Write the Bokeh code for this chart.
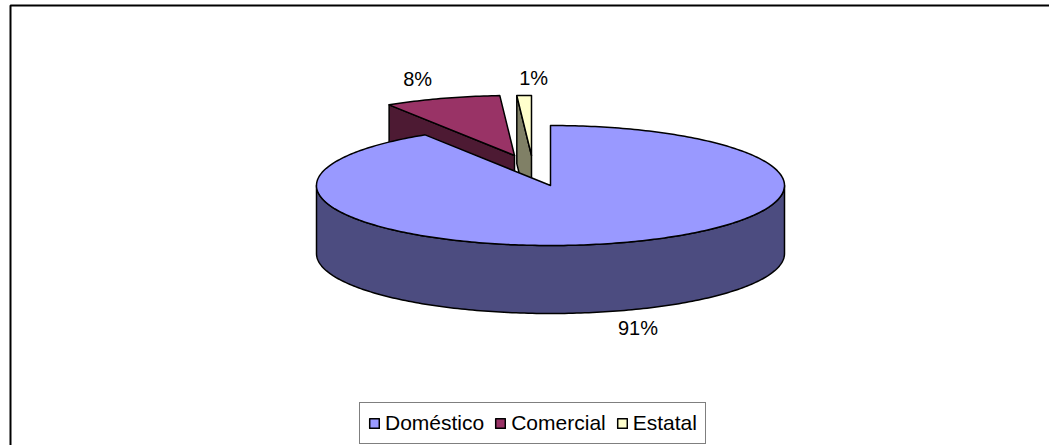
import math
from bokeh.plotting import figure
from bokeh.models import Range1d, Legend, LegendItem
from bokeh.core.properties import value
from bokeh.embed import file_html
from bokeh.resources import INLINE

# ---- data ----
categories = ["Doméstico", "Comercial", "Estatal"]
values = [91, 8, 1]

# ---- style ----
top_colors = ["#9999FF", "#993366", "#FFFFCC"]
side_colors = ["#4C4C80", "#4D1A33", "#808066"]
explode_px = [(0, 0), (-36, -30), (-19, -30)]   # offset of each exploded slice
label_nudge = [(0, 0), (0, 0), (12, 3)]         # small label adjustments (px)
CX, CY, A, B, D = 550, 185, 234, 60, 68          # pie centre, semi-axes, depth
LABEL_R = 1.34
FONT = "Liberation Sans"

W, H = 1049, 445
p = figure(width=W, height=H, x_range=Range1d(0, W), y_range=Range1d(H, 0),
           output_backend="svg", toolbar_location=None, min_border=0)
p.axis.visible = False
p.grid.visible = False
p.outline_line_color = None
p.background_fill_color = "white"
p.border_fill_color = "white"

total = float(sum(values))
angles = []
acc = 0.0
for v in values:
    s = acc / total * 2 * math.pi
    acc += v
    e = acc / total * 2 * math.pi
    angles.append((s, e))


def rim(cx, cy, th, bottom=False):
    return cx + A * math.sin(th), cy - B * math.cos(th) + (D if bottom else 0)


def arc(cx, cy, s, e, bottom=False):
    n = max(2, int(abs(e - s) / math.radians(1)) + 2)
    return [rim(cx, cy, s + (e - s) * k / (n - 1), bottom) for k in range(n)]


def poly(pts, color):
    xs = [q[0] for q in pts]
    ys = [q[1] for q in pts]
    return p.patch(xs, ys, fill_color=color, line_color="black", line_width=1.5,
                   line_join="round")


order = sorted(range(len(values)), key=lambda i: explode_px[i][1])
top_renderers = {}
labels_x, labels_y, labels_t = [], [], []
for i in order:
    s, e = angles[i]
    cx = CX + explode_px[i][0]
    cy = CY + explode_px[i][1]
    # outer rim side (front half only)
    rs, re_ = max(s, math.pi / 2), min(e, 3 * math.pi / 2)
    if re_ > rs:
        top_arc = arc(cx, cy, rs, re_)
        bot_arc = arc(cx, cy, rs, re_, bottom=True)
        poly(top_arc + bot_arc[::-1], side_colors[i])
    # radial cut faces that face the viewer
    if math.sin(s) < -1e-6:
        poly([(cx, cy), rim(cx, cy, s), rim(cx, cy, s, True), (cx, cy + D)], side_colors[i])
    if math.sin(e) > 1e-6:
        poly([(cx, cy), rim(cx, cy, e), rim(cx, cy, e, True), (cx, cy + D)], side_colors[i])
    # top face
    top_renderers[i] = poly([(cx, cy)] + arc(cx, cy, s, e), top_colors[i])
    mid = (s + e) / 2
    labels_x.append(cx + LABEL_R * A * math.sin(mid) + label_nudge[i][0])
    labels_y.append(cy - LABEL_R * B * math.cos(mid) + D * max(0.0, -math.cos(mid))
                    + label_nudge[i][1])
    labels_t.append(f"{round(values[i] / total * 100)}%")

p.text(labels_x, labels_y, text=labels_t, text_align="center", text_baseline="middle",
       text_font=value(FONT), text_font_size="20px", text_color="black")

# chart frame (top and left edges visible)
p.line([10, 10, W], [H, 5, 5], line_color="black", line_width=2)

legend = Legend(items=[LegendItem(label=categories[i], renderers=[top_renderers[i]])
                       for i in range(len(categories))],
                orientation="horizontal", location=(359, 1),
                glyph_width=12, glyph_height=12, label_standoff=5, spacing=10,
                padding=8, margin=0,
                label_text_font=FONT, label_text_font_size="21px",
                label_text_color="black",
                border_line_color="black", border_line_width=1,
                background_fill_color="white", background_fill_alpha=1.0)
p.add_layout(legend)

open("out.html", "w").write(file_html(p, INLINE))
